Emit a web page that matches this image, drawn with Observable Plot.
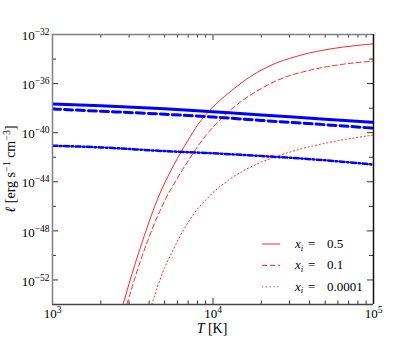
<!DOCTYPE html>
<html><head><meta charset="utf-8">
<script src="https://cdn.jsdelivr.net/npm/d3@7"></script>
<script src="https://cdn.jsdelivr.net/npm/@observablehq/plot@0.6"></script>
<style>body{margin:0;background:#fff}#chart{width:415px;height:338px}</style>
</head><body><div id="chart"></div>
<script>
// Temperatures (K) and log10 of ℓ (erg s^-1 cm^-3)
const T_red05 = [2750,3000,3250,3500,4000,4500,5000,6000,7000,8000,9000,10000,12500,15000,20000,25000,30000,40000,50000,65000,80000,100000];
const logL_red05 = [-54.0,-52.3,-50.8,-49.5,-47.25,-45.45,-44.1,-42.1,-40.6,-39.4,-38.55,-37.9,-36.78,-35.95,-34.9,-34.3,-33.95,-33.5,-33.25,-33.02,-32.88,-32.76];
const T_red01 = [2900,3000,3250,3500,4000,4500,5000,6000,7000,8000,9000,10000,12500,15000,20000,25000,30000,40000,50000,65000,80000,100000];
const logL_red01 = [-54.0,-53.4,-51.9,-50.6,-48.5,-46.85,-45.55,-43.7,-42.3,-41.15,-40.25,-39.55,-38.3,-37.45,-36.4,-35.75,-35.35,-34.92,-34.65,-34.42,-34.28,-34.18];
const T_red0001 = [4150,4500,5000,5500,6000,7000,8000,9000,10000,12500,15000,20000,25000,30000,40000,50000,65000,80000,100000];
const logL_red0001 = [-54.0,-52.6,-51.0,-49.85,-48.85,-47.3,-46.22,-45.5,-44.88,-43.86,-43.2,-42.4,-41.92,-41.59,-41.14,-40.86,-40.57,-40.38,-40.19];
const T_blue = [1000,2000,5000,10000,20000,50000,100000];
const logL_blueSolid = [-37.66,-37.8,-38.05,-38.3,-38.55,-38.9,-39.15];
const logL_blueDashed = [-38.07,-38.25,-38.5,-38.72,-39.0,-39.35,-39.63];
const logL_blueDashDot = [-41.06,-41.2,-41.5,-41.68,-41.9,-42.25,-42.6];

const legendLabels = ["0.5", "0.1", "0.0001"];
const xLabelTicks = [1e3, 1e4, 1e5];
const xMinorTicks = [2000,3000,4000,5000,6000,7000,8000,9000,20000,30000,40000,50000,60000,70000,80000,90000];
const yMajorExp = [-52,-48,-44,-40,-36,-32];
const yMinorExp = [-50,-46,-42,-38,-34];

const W = 415, H = 338, mL = 52, mR = 42, mT = 34, mB = 34;
const iW = W - mL - mR, iH = H - mT - mB;
const RED = "#ff2626", BLUE = "#0000ff";
const FONT = "'Liberation Serif', serif";

const series = [
  {T: T_red05, v: logL_red05, stroke: RED, w: 1, dash: null},
  {T: T_red01, v: logL_red01, stroke: RED, w: 1, dash: "5,3"},
  {T: T_red0001, v: logL_red0001, stroke: RED, w: 1, dash: "1.2,2.6"},
  {T: T_blue, v: logL_blueSolid, stroke: BLUE, w: 3, dash: null},
  {T: T_blue, v: logL_blueDashed, stroke: BLUE, w: 3, dash: "8,4"},
  {T: T_blue, v: logL_blueDashDot, stroke: BLUE, w: 2.5, dash: "5,2.5,1.5,2.5"}
];
const toRows = s => s.T.map((t, i) => ({T: t, L: Math.pow(10, s.v[i])}));

const yMajor = yMajorExp.map(e => Math.pow(10, e));
const yMinor = yMinorExp.map(e => Math.pow(10, e));
const fmt = d => "10^" + Math.round(Math.log10(d));
const GRAY = "#808080", DARK = "#333";

const plot = Plot.plot({
  width: W, height: H,
  marginLeft: mL, marginRight: mR, marginTop: mT, marginBottom: mB,
  style: `font-family: ${FONT}; font-size: 13px; background: #fff; color: #000;`,
  x: {type: "log", domain: [1e3, 1e5]},
  y: {type: "log", domain: [1e-54, 1e-32]},
  marks: [
    ...series.map(s => Plot.line(toRows(s), {x: "T", y: "L", stroke: s.stroke, strokeWidth: s.w, strokeDasharray: s.dash, curve: "monotone-x", clip: true})),
    // inward ticks
    Plot.tickY(yMajor, {insetRight: iW - 6, stroke: DARK}),
    Plot.tickY(yMajor, {insetLeft: iW - 6, stroke: DARK}),
    Plot.tickY(yMinor, {insetRight: iW - 4, stroke: DARK}),
    Plot.tickY(yMinor, {insetLeft: iW - 4, stroke: DARK}),
    Plot.tickX(xLabelTicks, {insetBottom: iH - 6, stroke: DARK}),
    Plot.tickX(xLabelTicks, {insetTop: iH - 6, stroke: DARK}),
    Plot.tickX(xMinorTicks, {insetBottom: iH - 3.5, stroke: DARK}),
    Plot.tickX(xMinorTicks, {insetTop: iH - 3.5, stroke: DARK}),
    // frame
    Plot.ruleX([1e3], {stroke: GRAY, strokeWidth: 1.5}),
    Plot.ruleY([1e-32], {stroke: GRAY, strokeWidth: 1.5}),
    Plot.ruleX([1e5], {stroke: "#111", strokeWidth: 1.5}),
    Plot.ruleY([1e-54], {stroke: "#444", strokeWidth: 1.5}),
    Plot.axisX(xLabelTicks, {tickSize: 0, tickPadding: 4.5, tickFormat: fmt, label: null, fontSize: 13}),
    Plot.axisY(yMajor, {tickSize: 0, tickPadding: 3, tickFormat: fmt, label: null, fontSize: 13, dy: 1.5})
  ]
});
document.getElementById("chart").appendChild(plot);

const svg = d3.select(plot);
// superscript tick labels
svg.selectAll("text").each(function() {
  const t = d3.select(this);
  const m = /^10\^(-?\d+)$/.exec(t.text());
  if (!m) return;
  t.text("10");
  t.append("tspan").attr("dy", "-5px").attr("font-size", "9.5px").text(m[1].replace("-", "\u2212"));
});

// axis titles
const xl = svg.append("text").attr("x", 212).attr("y", 332.5).attr("text-anchor", "middle").attr("font-size", "14px");
xl.append("tspan").attr("font-style", "italic").text("T");
xl.append("tspan").text(" [K]");

const yl = svg.append("text").attr("transform", "translate(15,169) rotate(-90)").attr("text-anchor", "middle").attr("font-size", "14px");
yl.append("tspan").attr("font-style", "italic").text("\u2113");
yl.append("tspan").text(" [erg s");
yl.append("tspan").attr("dy", "-5px").attr("font-size", "10px").text("\u22121");
yl.append("tspan").attr("dy", "5px").text(" cm");
yl.append("tspan").attr("dy", "-5px").attr("font-size", "10px").text("\u22123");
yl.append("tspan").attr("dy", "5px").text("]");

// legend
const lg = svg.append("g").attr("font-size", "13px").attr("text-anchor", "start");
legendLabels.forEach((lab, i) => {
  const y = 244 + i * 21.4;
  const s = series[i];
  lg.append("line").attr("x1", 262).attr("x2", 280).attr("y1", y).attr("y2", y)
    .attr("stroke", s.stroke).attr("stroke-width", s.w).attr("stroke-dasharray", s.dash);
  const t = lg.append("text").attr("x", 295).attr("y", y + 4);
  t.append("tspan").attr("font-style", "italic").text("x");
  t.append("tspan").attr("font-style", "italic").attr("font-size", "9px").attr("dy", "2.5px").text("i");
  lg.append("text").attr("x", 308).attr("y", y + 4).text("=");
  lg.append("text").attr("x", 327).attr("y", y + 4).text(lab);
});
svg.selectAll("text").attr("font-family", FONT).style("font-family", FONT);
</script></body></html>
